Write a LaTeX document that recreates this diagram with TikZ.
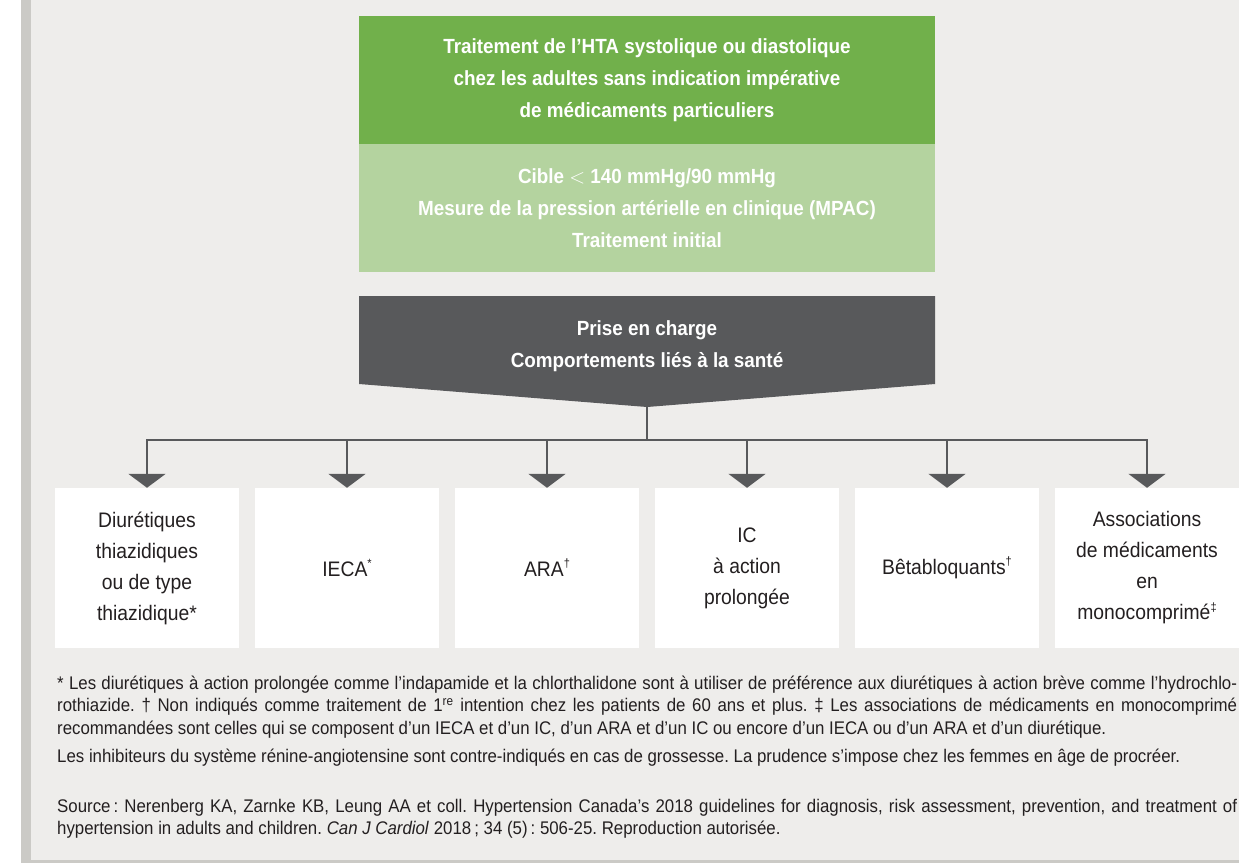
\documentclass[tikz,border=0pt]{standalone}
\usepackage{fontspec}
\setmainfont{Liberation Sans}[FakeStretch=0.92]
\usepackage{tikz}
\usetikzlibrary{arrows.meta}

\definecolor{paper}{HTML}{EEEDEB}
\definecolor{rule}{HTML}{CBCAC6}
\definecolor{leafgreen}{HTML}{71B04B}
\definecolor{palegreen}{HTML}{B4D39F}
\definecolor{slate}{HTML}{58595B}
\definecolor{ink}{HTML}{231F20}

\newcommand{\fullline}[1]{\hbox to 1180pt{#1}}
\newcommand{\refmark}[1]{\raisebox{0.42em}{\fontsize{12}{12}\selectfont #1}}
\frenchspacing

\begin{document}
\begin{tikzpicture}[x = 1pt, y = -1pt,
        band/.style = {minimum width = 576pt, minimum height = 128pt, inner sep = 0pt,
            text = white, align = center, font = \bfseries\fontsize{20.5}{32}\selectfont},
        drug/.style = {fill = white, minimum width = 184pt, minimum height = 160pt,
            inner sep = 0pt, align = center, text = ink, font = \fontsize{21}{31}\selectfont},
        feed/.style = {slate, line width = 2pt, -{Triangle[width = 37pt, length = 14pt]}},
        note/.style = {anchor = base west, inner sep = 0pt, text = ink,
            font = \fontsize{18.3}{22}\selectfont}]
            \useasboundingbox (0,0) rectangle (1239,863);
            \fill [paper] (0,0) rectangle (1239,863);
            \fill [white] (0,0) rectangle (21,863);
            \fill [rule] (21,0) rectangle (31,863);
            \fill [rule] (21,860) rectangle (1239,863);

            \node [band, fill = leafgreen] (goal) at (647,80)
            {Traitement de l’HTA systolique ou diastolique\\
            chez les adultes sans indication impérative\\de médicaments particuliers};
            \node [band, fill = palegreen] (target) at (647,208)
            {Cible \ensuremath{<} 140 mmHg/90 mmHg\\
            Mesure de la pression artérielle en clinique (MPAC)\\Traitement initial};

            \coordinate (tip) at (647,407);
            \fill [slate] (359,296) -- (935,296) -- (935,384) -- (tip) -- (359,384) -- cycle;
            \node [band, minimum height = 100pt] (care) at (647,346)
            {Prise en charge\\Comportements liés à la santé};

            \coordinate (split) at (647,440);
            \draw [slate, line width = 2pt] (tip) -- (split);

            \node [drug] (thiazide) at (147,568) {Diurétiques\\thiazidiques\\ou de type\\thiazidique*};
            \node [drug] (ieca) at (347,568) {IECA\refmark{*}};
            \node [drug] (ara) at (547,568) {ARA\refmark{†}};
            \node [drug] (ic) at (747,568) {IC\\à action\\prolongée};
            \node [drug] (beta) at (947,568) {Bêtabloquants\refmark{†}};
            \node [drug] (combo) at (1147,568) {Associations\\de médicaments\\en\\monocomprimé\refmark{‡}};

            \foreach \d in {thiazide, ieca, ara, ic, beta, combo}
                \draw [feed] (split) -| (\d.north);

            \node [note] (fn1) at (57,689) {\fullline{* Les diurétiques à action prolongée comme
            l’indapamide et la chlorthalidone sont à utiliser de préférence aux diurétiques
            à action brève comme l’hydrochlo-}};
            \node [note] (fn2) at (57,711.5) {\fullline{rothiazide. † Non indiqués comme traitement
            de 1\textsuperscript{re} intention chez les patients de 60 ans et plus. ‡ Les associations
            de médicaments en monocomprimé}};
            \node [note] (fn3) at (57,734) {recommandées sont celles qui se composent d’un IECA
            et d’un IC, d’un ARA et d’un IC ou encore d’un IECA ou d’un ARA et d’un diurétique.};
            \node [note] (fn4) at (57,762) {Les inhibiteurs du système rénine-angiotensine sont
            contre-indiqués en cas de grossesse. La prudence s’impose chez les femmes en âge de procréer.};
            \node [note] (fn5) at (57,812) {\fullline{Source\,: Nerenberg KA, Zarnke KB, Leung AA et coll.
            Hypertension Canada’s 2018 guidelines for diagnosis, risk assessment, prevention,
            and treatment of}};
            \node [note] (fn6) at (57,834.5) {hypertension in adults and children.
            \textit{Can J Cardiol} 2018\,; 34 (5)\,: 506-25. Reproduction autorisée.};
        \end{tikzpicture}
\end{document}
